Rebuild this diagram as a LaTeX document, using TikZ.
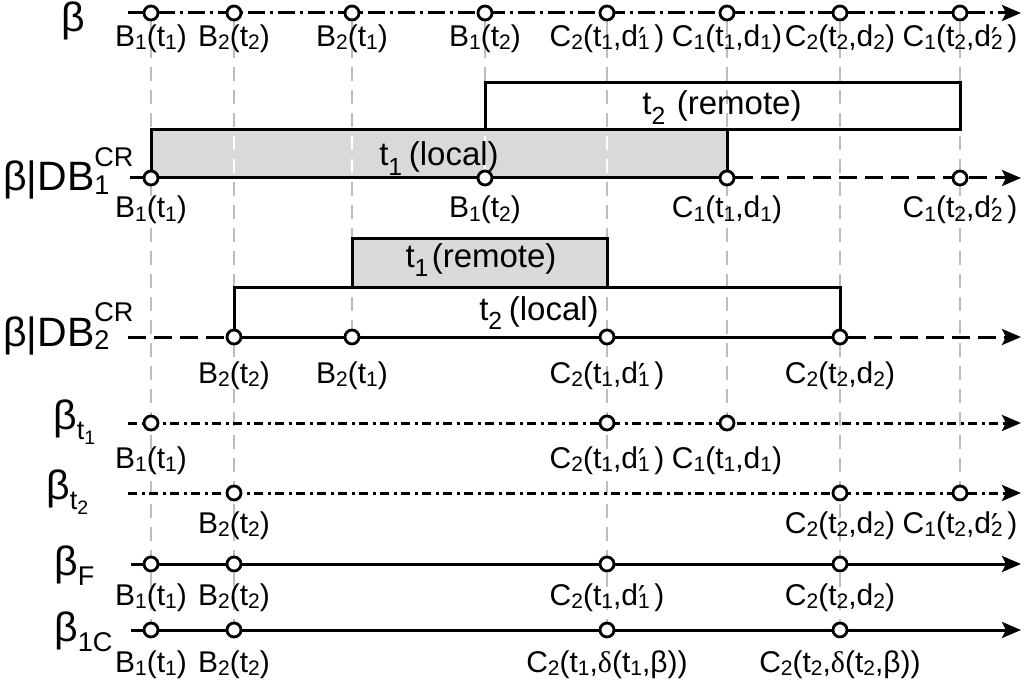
\documentclass[tikz,border=0pt]{standalone}
\usepackage{fontspec}
\setmainfont{Liberation Sans}
\newfontfamily\serifgr{Liberation Serif}
\newfontfamily\primefont{DejaVu Sans}
\usepackage{graphicx}
\usetikzlibrary{arrows.meta}

\definecolor{guidegray}{HTML}{BDBDBD}
\definecolor{boxgray}{HTML}{D9D9D9}

% sub/superscripts for the event labels, box texts and row names
\newcommand\lo[1]{\raisebox{-0.1em}{\scalebox{0.7}{#1}}}
\newcommand\bl[1]{\raisebox{-0.3em}{\scalebox{0.75}{#1}}}
\newcommand\pr{\rlap{\hspace{0.02em}\raisebox{-0.12em}{\scalebox{1.05}{\primefont ′}}}}
\newcommand\dl{{\serifgr δ}}
\newcommand\sidesub[1]{\raisebox{-0.08em}{\scalebox{0.66}{#1}}}
\newcommand\sidelow[1]{\raisebox{-0.25em}{\scalebox{0.66}{#1}}}
\newcommand\sidesup[1]{\raisebox{0.6em}{\scalebox{0.66}{#1}}}
\newcommand\subsup[2]{\rlap{\sidesub{#1}}\sidesup{#2}}

% event labels
\newcommand\LBaa{B\lo{1}(t\lo{1})}
\newcommand\LBbb{B\lo{2}(t\lo{2})}
\newcommand\LBba{B\lo{2}(t\lo{1})}
\newcommand\LBab{B\lo{1}(t\lo{2})}
\newcommand\LCba{C\lo{2}(t\lo{1},d\pr\lo{1}\hspace{0.15em})}
\newcommand\LCaa{C\lo{1}(t\lo{1},d\lo{1})}
\newcommand\LCbb{C\lo{2}(t\lo{2},d\lo{2})}
\newcommand\LCab{C\lo{1}(t\lo{2},d\pr\lo{2}\hspace{0.15em})}

\pgfdeclarelayer{fills}
\pgfdeclarelayer{guides}
\pgfdeclarelayer{lines}
\pgfsetlayers{fills,guides,lines,main}

\begin{document}
\begin{tikzpicture}[x=1pt,y=-1pt,
  evt/.style={circle, draw, fill=white, line width=2.8pt, minimum size=14pt, inner sep=0pt},
  lbl/.style={font=\fontsize{30}{32}\selectfont, anchor=base, inner sep=0pt},
  boxtxt/.style={font=\fontsize{33}{36}\selectfont, anchor=base, inner sep=0pt},
  side/.style={font=\fontsize{41}{44}\selectfont, inner sep=0pt},
  axis/.style={line width=3pt},
  tip/.style={-{Stealth[length=19pt,width=16pt,inset=4pt]}},
  dashdotline/.style={dash pattern=on 17pt off 5pt on 3pt off 5pt},
  finedashdot/.style={dash pattern=on 9pt off 4.5pt on 3pt off 4.5pt},
  longdash/.style={dash pattern=on 18pt off 8pt},
  guide/.style={draw=guidegray, line width=2.8pt, dash pattern=on 14pt off 9pt},
  frame/.style={draw=black, line width=3pt},
]
\useasboundingbox (0,0) rectangle (1029,690);

\def\xa{151}\def\xb{234}\def\xc{352}\def\xd{485}
\def\xe{607}\def\xf{727}\def\xg{840}\def\xh{960}
\def\ya{13}\def\yb{178}\def\yc{337}\def\yd{423}
\def\ye{493}\def\yf{564}\def\yg{630}
\def\xs{128}\def\xend{1021}

% ---- events ----
\node[evt] (a1) at (\xa,\ya) {};
\node[evt] (a2) at (\xb,\ya) {};
\node[evt] (a3) at (\xc,\ya) {};
\node[evt] (a4) at (\xd,\ya) {};
\node[evt] (a5) at (\xe,\ya) {};
\node[evt] (a6) at (\xf,\ya) {};
\node[evt] (a7) at (\xg,\ya) {};
\node[evt] (a8) at (\xh,\ya) {};

\node[evt] (b1) at (\xa,\yb) {};
\node[evt] (b4) at (\xd,\yb) {};
\node[evt] (b6) at (\xf,\yb) {};
\node[evt] (b8) at (\xh,\yb) {};

\node[evt] (c2) at (\xb,\yc) {};
\node[evt] (c3) at (\xc,\yc) {};
\node[evt] (c5) at (\xe,\yc) {};
\node[evt] (c7) at (\xg,\yc) {};

\node[evt] (d1) at (\xa,\yd) {};
\node[evt] (d5) at (\xe,\yd) {};
\node[evt] (d6) at (\xf,\yd) {};

\node[evt] (e2) at (\xb,\ye) {};
\node[evt] (e7) at (\xg,\ye) {};
\node[evt] (e8) at (\xh,\ye) {};

\node[evt] (f1) at (\xa,\yf) {};
\node[evt] (f2) at (\xb,\yf) {};
\node[evt] (f5) at (\xe,\yf) {};
\node[evt] (f7) at (\xg,\yf) {};

\node[evt] (g1) at (\xa,\yg) {};
\node[evt] (g2) at (\xb,\yg) {};
\node[evt] (g5) at (\xe,\yg) {};
\node[evt] (g7) at (\xg,\yg) {};

% ---- line ends ----
\coordinate (as) at (\xs,\ya);  \coordinate (ae) at (\xend,\ya);
\coordinate (bs) at (130,\yb);  \coordinate (be) at (\xend,\yb);
\coordinate (cs) at (\xs,\yc);  \coordinate (ce) at (\xend,\yc);
\coordinate (ds) at (\xs,\yd);  \coordinate (de) at (\xend,\yd);
\coordinate (es) at (\xs,\ye);  \coordinate (ee) at (\xend,\ye);
\coordinate (fs) at (131,\yf);  \coordinate (fe) at (\xend,\yf);
\coordinate (gs) at (131,\yg);  \coordinate (ge) at (\xend,\yg);

% ---- shaded transaction boxes ----
\begin{pgfonlayer}{fills}
  \fill[boxgray] (\xa,130) rectangle (\xf,\yb);
  \fill[boxgray] (\xc,238) rectangle (\xe,287);
\end{pgfonlayer}

% ---- vertical guides ----
\begin{pgfonlayer}{guides}
  \foreach \p/\q in {a1/g1,a2/g2,a3/c3,a4/b4,a5/g5,a6/d6,a7/g7,a8/e8}
    \draw[guide] (\p) -- (\q);
  \begin{scope}
    \clip (\xa,130) rectangle (\xf,\yb) (\xc,238) rectangle (\xe,287);
    \foreach \p/\q in {a1/g1,a2/g2,a3/c3,a4/b4,a5/g5,a6/d6,a7/g7,a8/e8}
      \draw[guide, draw=white] (\p) -- (\q);
  \end{scope}
\end{pgfonlayer}

\begin{pgfonlayer}{lines}
  % box outlines
  \draw[frame] (\xd,83) rectangle (\xh,130);
  \draw[frame] (\xa,\yb) -- (\xa,130) -- (\xf,130) -- (\xf,\yb);
  \draw[frame] (\xc,287) -- (\xc,238) -- (\xe,238) -- (\xe,287);
  \draw[frame] (\xb,\yc) -- (\xb,287) -- (\xg,287) -- (\xg,\yc);
  % time lines
  \draw[axis, tip, dashdotline] (as) -- (ae);
  \draw[axis] (bs) -- (b6);
  \draw[axis, tip, longdash] (b6) -- (be);
  \draw[axis, longdash] (cs) -- (c2);
  \draw[axis] (c2) -- (c7);
  \draw[axis, tip, longdash] (c7) -- (ce);
  \draw[axis, tip, finedashdot] (ds) -- (de);
  \draw[axis, tip, finedashdot] (es) -- (ee);
  \draw[axis, tip] (fs) -- (fe);
  \draw[axis, tip] (gs) -- (ge);
\end{pgfonlayer}

% ---- box texts ----
\node[boxtxt] (t2r) at (722,115) {t\bl{2}\hspace{0.35em}(remote)};
\node[boxtxt] (t1l) at (439,166) {t\bl{1}\hspace{0.2em}(local)};
\node[boxtxt] (t1r) at (481,267) {t\bl{1}\hspace{0.1em}(remote)};
\node[boxtxt] (t2l) at (539,320) {t\bl{2}\hspace{0.2em}(local)};

% ---- row names ----
\node[side] (na) at (73,21) {β};
\node[side, anchor=base west] (nb) at (3,191) {β|DB\subsup{1}{CR}};
\node[side, anchor=base west] (nc) at (3,346) {β|DB\subsup{2}{CR}};
\node[side, anchor=base west] (nd) at (53,429) {β\sidelow{t\raisebox{-0.2em}{\scalebox{0.72}{1}}}};
\node[side, anchor=base west] (ne) at (46,499) {β\sidelow{t\raisebox{-0.2em}{\scalebox{0.72}{2}}}};
\node[side, anchor=base west] (nf) at (54,575) {β\sidelow{F}};
\node[side, anchor=base west] (ng) at (54,641) {β\sidelow{1C}};

% ---- event labels ----
\node[lbl, yshift=-34pt] (a1l) at (a1) {\LBaa};
\node[lbl, yshift=-34pt] (a2l) at (a2) {\LBbb};
\node[lbl, yshift=-34pt] (a3l) at (a3) {\LBba};
\node[lbl, yshift=-34pt] (a4l) at (a4) {\LBab};
\node[lbl, yshift=-34pt] (a5l) at (a5) {\LCba};
\node[lbl, yshift=-34pt] (a6l) at (a6) {\LCaa};
\node[lbl, yshift=-34pt] (a7l) at (a7) {\LCbb};
\node[lbl, yshift=-34pt] (a8l) at (a8) {\LCab};

\node[lbl, yshift=-40pt] (b1l) at (b1) {\LBaa};
\node[lbl, yshift=-40pt] (b4l) at (b4) {\LBab};
\node[lbl, yshift=-40pt] (b6l) at (b6) {\LCaa};
\node[lbl, yshift=-40pt] (b8l) at (b8) {\LCab};

\node[lbl, yshift=-46pt] (c2l) at (c2) {\LBbb};
\node[lbl, yshift=-46pt] (c3l) at (c3) {\LBba};
\node[lbl, yshift=-46pt] (c5l) at (c5) {\LCba};
\node[lbl, yshift=-46pt] (c7l) at (c7) {\LCbb};

\node[lbl, yshift=-45pt] (d1l) at (d1) {\LBaa};
\node[lbl, yshift=-45pt] (d5l) at (d5) {\LCba};
\node[lbl, yshift=-45pt] (d6l) at (d6) {\LCaa};

\node[lbl, yshift=-40pt] (e2l) at (e2) {\LBbb};
\node[lbl, yshift=-40pt] (e7l) at (e7) {\LCbb};
\node[lbl, yshift=-40pt] (e8l) at (e8) {\LCab};

\node[lbl, yshift=-41pt] (f1l) at (f1) {\LBaa};
\node[lbl, yshift=-41pt] (f2l) at (f2) {\LBbb};
\node[lbl, yshift=-41pt] (f5l) at (f5) {\LCba};
\node[lbl, yshift=-41pt] (f7l) at (f7) {\LCbb};

\node[lbl, yshift=-42pt] (g1l) at (g1) {\LBaa};
\node[lbl, yshift=-42pt] (g2l) at (g2) {\LBbb};
\node[lbl, yshift=-42pt] (g5l) at (g5) {C\lo{2}(t\lo{1},\dl(t\lo{1},β))};
\node[lbl, yshift=-42pt] (g7l) at (g7) {C\lo{2}(t\lo{2},\dl(t\lo{2},β))};
\end{tikzpicture}
\end{document}
